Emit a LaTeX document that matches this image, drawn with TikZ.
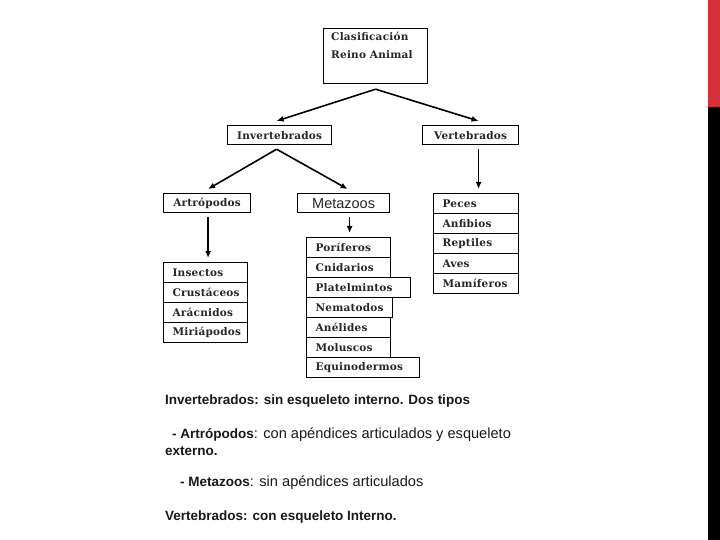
\documentclass[tikz,border=0pt]{standalone}
\usepackage{fontspec}
\setmainfont{Liberation Sans}
\newfontfamily\boxfont[LetterSpace=2, BoldFont={DejaVu Serif Bold}]{DejaVu Serif}
\usetikzlibrary{arrows.meta}
\definecolor{barred}{HTML}{D3303A}
\tikzset{
  x=1pt, y=-1pt,
  bx/.style={draw=black, line width=1.2pt, text=black!85, inner sep=0pt, anchor=north west,
    font=\boxfont\bfseries\fontsize{10.5}{12}\selectfont},
  hdr/.style={bx, minimum width=#1, minimum height=19pt},
  row/.style={bx, minimum height=20pt, inner xsep=9pt, text width=#1, align=left},
  arr/.style={line width=1.6pt, -{Latex[length=7pt,width=6pt]}},
  vline/.style={arr, shorten <=4pt, shorten >=4pt},
  note/.style={anchor=base west, inner sep=0pt, font=\fontsize{14.6}{16}\selectfont, text=black!90},
  bnote/.style={note, font=\bfseries\fontsize{13.5}{16}\selectfont}
}
\newcommand{\bpart}[1]{{\bfseries\fontsize{13.5}{16}\selectfont #1}}
\begin{document}
\begin{tikzpicture}
\useasboundingbox (0,0) rectangle (720,540);
\fill[white] (0,0) rectangle (720,540);
\fill[barred] (708,0) rectangle (720,107);
\fill[black] (708,107) rectangle (720,540);

% root
\node[bx, minimum width=104pt, minimum height=55pt] (root) at (323,28) {};
\node[anchor=north west, inner sep=0pt, align=left, text=black!85,
  font=\boxfont\bfseries\fontsize{10.5}{18}\selectfont] (roottext) at (331,32) {Clasificación\\Reino Animal};

% level 1
\node[hdr=104pt] (inv) at (227,125) {Invertebrados};
\node[hdr=96pt] (ver) at (422,125) {Vertebrados};

% level 2
\node[hdr=87pt] (art) at (163,193) {Artrópodos};
\node[hdr=92pt, font=\fontsize{14.5}{15}\selectfont] (met) at (297,193) {Metazoos};

% artropodos list
\node[row=66pt] (ins) at (163,262) {Insectos};
\node[row=66pt] (cru) at (163,282) {Crustáceos};
\node[row=66pt] (ara) at (163,302) {Arácnidos};
\node[row=66pt] (mir) at (163,322) {Miriápodos};

% metazoos list
\node[row=66pt] (por) at (306,237) {Poríferos};
\node[row=66pt] (cni) at (306,257) {Cnidarios};
\node[row=86pt] (pla) at (306,277) {Platelmintos};
\node[row=68pt] (nem) at (306,297) {Nematodos};
\node[row=66pt] (ane) at (306,317) {Anélides};
\node[row=66pt] (mol) at (306,337) {Moluscos};
\node[row=95pt] (equ) at (306,357) {Equinodermos};

% vertebrados list
\node[row=67pt] (pec) at (433,193) {Peces};
\node[row=67pt] (anf) at (433,213) {Anfibios};
\node[row=67pt] (rep) at (433,233) {Reptiles};
\node[row=67pt] (ave) at (433,253) {Aves};
\node[row=67pt] (mam) at (433,273) {Mamíferos};

% connectors
\coordinate (r0) at ([yshift=-5pt]root.south);
\draw[arr] (r0) -- ([xshift=-3pt,yshift=4pt]inv.north);
\draw[arr] (r0) -- ([xshift=8pt,yshift=4pt]ver.north);
\coordinate (i0) at ([xshift=-3pt,yshift=-4pt]inv.south);
\draw[arr] (i0) -- ([xshift=1pt,yshift=4pt]art.north);
\draw[arr] (i0) -- ([xshift=4pt,yshift=4pt]met.north);
\coordinate (v0) at ([xshift=8pt]ver.south);
\draw[vline] (v0) -- (v0 |- pec.north);
\coordinate (a0) at ([xshift=1pt]art.south);
\draw[vline] (a0) -- (a0 |- ins.north);
\coordinate (m0) at ([xshift=6pt]met.south);
\draw[vline] (m0) -- (m0 |- por.north);

% notes
\node[bnote] (n1) at (165,404) {Invertebrados: sin esqueleto interno. Dos tipos};
\node[note] (n2) at (172,438) {\bpart{- Artrópodos}: con apéndices articulados y esqueleto};
\node[bnote] (n3) at (165,455) {externo.};
\node[note] (n4) at (180,486) {\bpart{- Metazoos}: sin apéndices articulados};
\node[bnote] (n5) at (165,520) {Vertebrados: con esqueleto Interno.};
\end{tikzpicture}
\end{document}
